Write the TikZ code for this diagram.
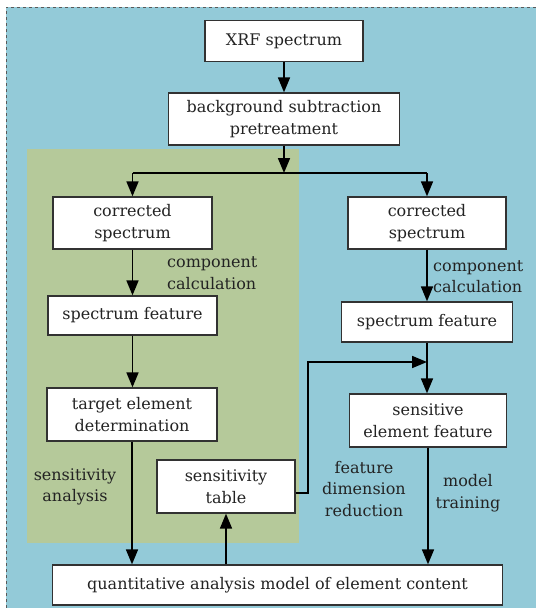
\documentclass[tikz,border=0pt]{standalone}
\usepackage{fontspec}
\setmainfont{DejaVu Serif}
\usetikzlibrary{arrows.meta}
\definecolor{bgblue}{RGB}{147,202,216}
\definecolor{bggreen}{RGB}{181,201,154}
\definecolor{boxline}{RGB}{50,50,50}
\definecolor{txt}{RGB}{35,35,35}
\tikzset{
  box/.style={draw=boxline, line width=1.3pt, fill=white, inner sep=0pt, align=center,
    font=\fontsize{16}{21.5}\selectfont, text=txt},
  lbl/.style={inner sep=0pt, font=\fontsize{16}{21.5}\selectfont, text=txt},
  arr/.style={line width=1.7pt, -{Triangle[length=15pt,width=12pt]}},
  ln/.style={line width=1.7pt}
}
\begin{document}
\begin{tikzpicture}[x=1pt,y=-1pt]
\useasboundingbox (0,0) rectangle (536,608);
\fill[bgblue] (6,7) rectangle (536,608);
\draw[gray!70!black, dashed, line width=0.6pt] (6,608) -- (6,7) -- (536,7);
\fill[bggreen] (27,149) rectangle (299,543);

\node[box, minimum width=158pt, minimum height=41pt] (xrf) at (284,41) {XRF spectrum};
\node[box, minimum width=231pt, minimum height=52pt] (bg) at (284,119) {background subtraction\\pretreatment};
\node[box, minimum width=159pt, minimum height=52pt] (lcs) at (132.5,223) {corrected\\spectrum};
\node[box, minimum width=169pt, minimum height=39pt] (lsf) at (132.5,315.5) {spectrum feature};
\node[box, minimum width=158pt, minimum height=52pt] (rcs) at (427,223) {corrected\\spectrum};
\node[box, minimum width=171pt, minimum height=40pt] (rsf) at (427,322) {spectrum feature};
\node[box, minimum width=170pt, minimum height=53pt] (ted) at (132,414.5) {target element\\determination};
\node[box, minimum width=157pt, minimum height=53pt] (sef) at (428,420.5) {sensitive\\element feature};
\node[box, minimum width=138pt, minimum height=53pt] (st) at (226,486.5) {sensitivity\\table};
\node[box, minimum width=450pt, minimum height=40pt] (qam) at (277.5,585) {quantitative analysis model of element content};

\node[lbl, anchor=west, align=left] (cc1) at (167,273) {component\\calculation};
\node[lbl, anchor=west, align=left] (cc2) at (433,276.5) {component\\calculation};
\node[lbl, align=center] (sa) at (75,487) {sensitivity\\analysis};
\node[lbl, align=center] (fdr) at (364,489) {feature\\dimension\\reduction};
\node[lbl, align=center] (mt) at (468,493) {model\\training};

\coordinate (j) at (284,173);
\coordinate (jl) at (lcs.north |- j);
\coordinate (jr) at (rcs.north |- j);
\coordinate (s1) at (308,493);
\coordinate (s2) at (308,362);
\coordinate (s3) at (427,362);

\draw[arr] (xrf) -- (bg);
\draw[arr] (bg.south -| j) -- (j);
\draw[ln] (jl) -- (jr);
\draw[arr] (jl) -- (lcs.north);
\draw[arr] (jr) -- (rcs.north);
\draw[arr] (lcs) -- (lsf);
\draw[arr] (rcs) -- (rsf);
\draw[arr] (lsf) -- (lsf.south |- ted.north);
\draw[arr] (rsf.south) -- (rsf.south |- sef.north);
\draw[arr] (st.east |- s1) -- (s1) -- (s2) -- (s3);
\draw[arr] (ted) -- (ted.south |- qam.north);
\draw[arr] (qam.north -| st.south) -- (st.south);
\draw[arr] (sef.south) -- (sef.south |- qam.north);
\end{tikzpicture}
\end{document}
